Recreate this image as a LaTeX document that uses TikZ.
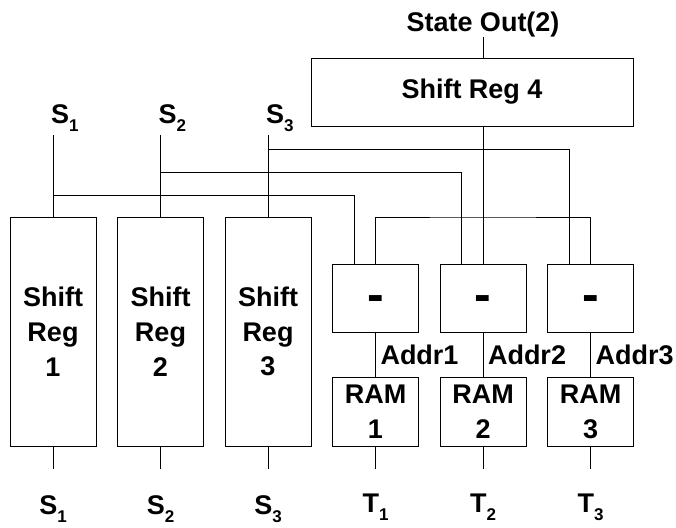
\documentclass[tikz,border=0pt]{standalone}
\usepackage{fontspec}
\setmainfont{Liberation Sans}
\usepackage{xcolor}
\usepackage{tikz}
\usetikzlibrary{positioning}

\newcommand{\diagfont}{\bfseries\fontsize{27}{34.8}\selectfont}
\newcommand{\lowsub}[1]{\raisebox{-8pt}{\fontsize{17}{17}\selectfont #1}}

\begin{document}
\begin{tikzpicture}[x=1pt, y=-1pt, line width=1pt, node distance=21.5pt,
    every node/.style={font=\diagfont, outer sep=0pt},
    regbox/.style={draw, rectangle, minimum width=86pt, inner sep=0pt, align=center},
    diffbox/.style={regbox, minimum height=68pt, font=\bfseries\fontsize{50}{50}\selectfont, text height=27.5pt, text depth=0pt},
    rambox/.style={regbox, minimum height=69pt},
    pinlabel/.style={inner sep=0pt}]
    \useasboundingbox (0,0) rectangle (676,527);

    % Nodes
    \node (sr1) [regbox, minimum height=229pt] at (53,331.5) {Shift\\Reg\\1}; % first state register
    \node (sr2) [regbox, minimum height=229pt, right=of sr1] {Shift\\Reg\\2}; % second state register
    \node (sr3) [regbox, minimum height=229pt, right=of sr2] {Shift\\Reg\\3}; % third state register
    \node (m1) [diffbox, right=of sr3.north east, anchor=north west, yshift=-47pt] {-}; % difference for RAM 1
    \node (m2) [diffbox, right=of m1] {-}; % difference for RAM 2
    \node (m3) [diffbox, right=of m2] {-}; % difference for RAM 3
    \node (ram1) [rambox, below=45pt of m1] {RAM\\1}; % table 1
    \node (ram2) [rambox, below=45pt of m2] {RAM\\2}; % table 2
    \node (ram3) [rambox, below=45pt of m3] {RAM\\3}; % table 3
    \node (sr4) [regbox, minimum width=322pt, minimum height=68pt, above right=91pt and 0pt of sr3.north east, anchor=south west] {Shift Reg 4}; % output register

    \coordinate (m1in) at ([xshift=-21.5pt]m1.north); % left input of each difference
    \coordinate (m2in) at ([xshift=-21.5pt]m2.north);
    \coordinate (m3in) at ([xshift=-21.5pt]m3.north);
    \coordinate (split) at (m2.north |- sr1.north); % fan-out of Shift Reg 4
    \coordinate (outtap) at (sr4.north -| m2.north);

    % Labels
    \node (stateout) [pinlabel, above=21pt of outtap] {State Out(2)};
    \node (s1top) [pinlabel, above=94pt of sr1.north, anchor=base west, xshift=-2pt] {S\lowsub{1}};
    \node (s2top) [pinlabel, above=94pt of sr2.north, anchor=base west, xshift=-2pt] {S\lowsub{2}};
    \node (s3top) [pinlabel, above=94pt of sr3.north, anchor=base west, xshift=-2pt] {S\lowsub{3}};
    \node (s1bot) [pinlabel, below=50pt of sr1] {S\lowsub{1}};
    \node (s2bot) [pinlabel, below=50pt of sr2] {S\lowsub{2}};
    \node (s3bot) [pinlabel, below=50pt of sr3] {S\lowsub{3}};
    \node (t1bot) [pinlabel, below=48pt of ram1] {T\lowsub{1}};
    \node (t2bot) [pinlabel, below=48pt of ram2] {T\lowsub{2}};
    \node (t3bot) [pinlabel, below=48pt of ram3] {T\lowsub{3}};

    % Wires
    \draw[shorten >=4pt] (sr1.north) -- (sr1.north |- s1top.south); % S1 in
    \draw[shorten >=4pt] (sr2.north) -- (sr2.north |- s2top.south); % S2 in
    \draw[shorten >=4pt] (sr3.north) -- (sr3.north |- s3top.south); % S3 in
    \draw (m1in) |- ([yshift=22pt]sr1.north); % S1 bus
    \draw (m2in) |- ([yshift=45pt]sr2.north); % S2 bus
    \draw (m3in) |- ([yshift=68pt]sr3.north); % S3 bus
    \draw (stateout) -- (outtap);
    \draw (sr4.south -| m2.north) -- (m2.north); % Shift Reg 4 out
    \draw (m1.north) |- (split) -| (m3.north);
    \draw (m1) -- (ram1) node[midway, right, inner sep=5pt] {Addr1};
    \draw (m2) -- (ram2) node[midway, right, inner sep=5pt] {Addr2};
    \draw (m3) -- (ram3) node[midway, right, inner sep=5pt] {Addr3};
    \draw[shorten >=27pt] (sr1.south) -- (s1bot.north); % outputs
    \draw[shorten >=27pt] (sr2.south) -- (s2bot.north);
    \draw[shorten >=27pt] (sr3.south) -- (s3bot.north);
    \draw[shorten >=25pt] (ram1.south) -- (t1bot.north);
    \draw[shorten >=25pt] (ram2.south) -- (t2bot.north);
    \draw[shorten >=25pt] (ram3.south) -- (t3bot.north);
\end{tikzpicture}
\end{document}
